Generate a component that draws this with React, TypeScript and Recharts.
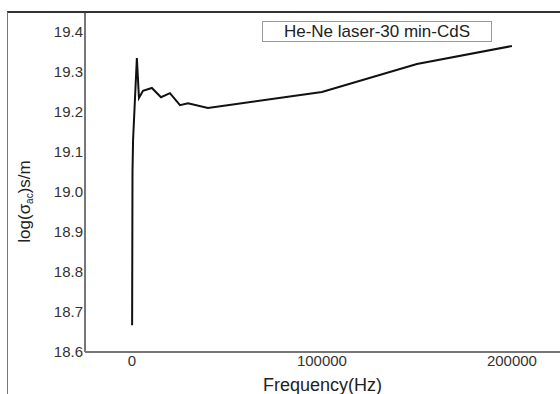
import { LineChart, Line, XAxis, YAxis } from 'recharts';

// frequency (Hz) and log(sigma_ac)
const frequency = [100, 300, 600, 2600, 3700, 5800, 10500, 15300, 20000, 25300, 29500, 40000, 100000, 150000, 200000];
const logSigma = [18.667, 19.05, 19.13, 19.335, 19.235, 19.253, 19.26, 19.237, 19.247, 19.217, 19.222, 19.21, 19.25, 19.32, 19.365];

const xTicks = [0, 100000, 200000];
const yTicks = [18.6, 18.7, 18.8, 18.9, 19.0, 19.1, 19.2, 19.3, 19.4];

const data = frequency.map((f, i) => ({ f, v: logSigma[i] }));

const YLabel = ({ viewBox }: any) => {
  const cx = 24;
  const cy = viewBox.y + viewBox.height / 2 + 20;
  return (
    <text
      x={cx}
      y={cy}
      transform={`rotate(-90 ${cx} ${cy})`}
      textAnchor="middle"
      dominantBaseline="central"
      fill="#222"
      fontSize={17}
      fontFamily="Liberation Sans, Arial, sans-serif"
    >
      log(σ<tspan fontSize={10} dy={5}>ac</tspan>
      <tspan dy={-5}>)s/m</tspan>
    </text>
  );
};

const App = () => {
  return (
    <div style={{ position: 'absolute', left: 0, top: 0, width: 560, height: 394, background: '#fff' }}>
      <LineChart
        width={560}
        height={394}
        data={data}
        margin={{ top: 11, right: 0, bottom: 0, left: 0 }}
        style={{ fontFamily: 'Liberation Sans, Arial, sans-serif' }}
      >
        <XAxis
          dataKey="f"
          type="number"
          domain={[-24700, 225300]}
          allowDataOverflow
          ticks={xTicks}
          tickLine={false}
          tickSize={0}
          tickMargin={3}
          height={42}
          stroke="#777"
          strokeWidth={2}
          tick={{ fill: '#333', fontSize: 15 }}
          label={{ value: 'Frequency(Hz)', position: 'insideBottom', offset: 3, fill: '#222', fontSize: 18 }}
        />
        <YAxis
          type="number"
          domain={[18.6, 19.4525]}
          allowDataOverflow
          ticks={yTicks}
          tickFormatter={(v: number) => v.toFixed(1)}
          tickLine={false}
          tickSize={0}
          tickMargin={2}
          width={85}
          stroke="#777"
          strokeWidth={2}
          tick={{ fill: '#333', fontSize: 15 }}
          label={<YLabel />}
        />
        <Line
          dataKey="v"
          type="linear"
          stroke="#111"
          strokeWidth={2}
          dot={false}
          isAnimationActive={false}
        />
      </LineChart>
      <div style={{ position: 'absolute', left: 7, top: 11, width: 553, height: 383, borderTop: '2px solid #333', borderLeft: '1px solid #777', boxSizing: 'border-box', pointerEvents: 'none' }} />
      <div
        style={{
          position: 'absolute',
          left: 262,
          top: 21,
          width: 230,
          height: 21,
          border: '1px solid #999',
          boxSizing: 'border-box',
          fontFamily: 'Liberation Sans, Arial, sans-serif',
          fontSize: 17,
          color: '#222',
          lineHeight: '19px',
          textAlign: 'center',
          whiteSpace: 'nowrap',
        }}
      >
        He-Ne laser-30 min-CdS
      </div>
    </div>
  );
};

export default App;
